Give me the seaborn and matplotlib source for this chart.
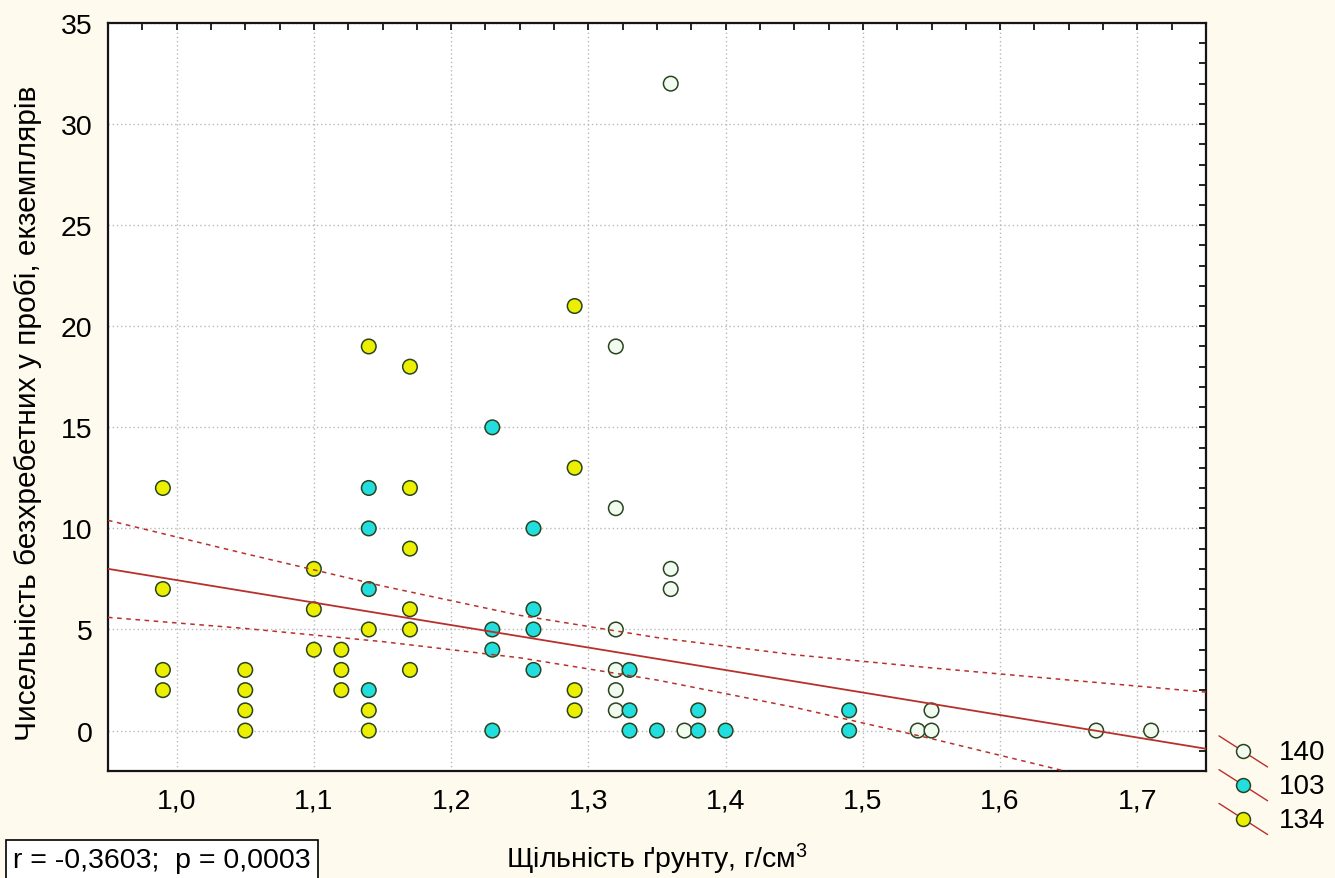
"""scatter of invertebrate counts vs soil density, with linear fit and 95% CI"""

import pandas as pd
import matplotlib.pyplot as plt
import seaborn as sns
from matplotlib.lines import Line2D
from matplotlib.legend_handler import HandlerBase
from matplotlib.ticker import MultipleLocator, FuncFormatter

# --- data ---
x_140 = [1.32, 1.32, 1.32, 1.32, 1.32, 1.32, 1.36, 1.36, 1.36, 1.37, 1.54, 1.55, 1.55, 1.67, 1.71]
y_140 = [19, 11, 5, 3, 2, 1, 32, 8, 7, 0, 0, 1, 0, 0, 0]

x_103 = [1.14, 1.14, 1.14, 1.14, 1.23, 1.23, 1.23, 1.23, 1.26, 1.26, 1.26, 1.26,
         1.33, 1.33, 1.33, 1.35, 1.38, 1.38, 1.40, 1.49, 1.49]
y_103 = [12, 10, 7, 2, 15, 5, 4, 0, 10, 6, 5, 3, 3, 1, 0, 0, 1, 0, 0, 1, 0]

x_134 = [0.99, 0.99, 0.99, 0.99, 1.05, 1.05, 1.05, 1.05, 1.10, 1.10, 1.10,
         1.12, 1.12, 1.12, 1.14, 1.14, 1.14, 1.14,
         1.17, 1.17, 1.17, 1.17, 1.17, 1.17, 1.29, 1.29, 1.29, 1.29]
y_134 = [12, 7, 3, 2, 3, 2, 1, 0, 8, 6, 4, 4, 3, 2, 19, 5, 1, 0,
         18, 12, 9, 6, 5, 3, 21, 13, 2, 1]

# regression line and its 95% band, as drawn in the original (all sites pooled)
fit_x = [0.95, 1.75]
fit_y = [8.0, -0.9]
band_x = [0.95, 1.05, 1.15, 1.25, 1.35, 1.45, 1.55, 1.65, 1.75]
band_hi = [10.4, 8.75, 7.15, 5.7, 4.6, 3.75, 3.1, 2.5, 1.9]
band_lo = [5.6, 5.05, 4.4, 3.6, 2.5, 1.15, -0.4, -2.05, -3.7]

groups = ["140", "103", "134"]
colors = {"140": "#f2fbf0", "103": "#22dede", "134": "#ecf000"}
r_text = "r = -0,3603;  p = 0,0003"

df = pd.concat([
    pd.DataFrame({"x": x_140, "y": y_140, "g": "140"}),
    pd.DataFrame({"x": x_103, "y": y_103, "g": "103"}),
    pd.DataFrame({"x": x_134, "y": y_134, "g": "134"}),
], ignore_index=True)

sns.set_style("white", {"text.color": "black", "axes.labelcolor": "black",
                        "xtick.color": "black", "ytick.color": "black"})
plt.rcParams["font.family"] = ["Liberation Sans", "DejaVu Sans"]
plt.rcParams["mathtext.default"] = "regular"

FS = 20.5
EDGE = "#2a4420"
LINE = "#b8302c"

fig = plt.figure(figsize=(13.35, 8.79), dpi=100, facecolor="#fffaee")
ax = fig.add_axes([108 / 1335, 1 - 772 / 879, 1098 / 1335, 748 / 879])
ax.set_facecolor("white")

sns.scatterplot(data=df, x="x", y="y", hue="g", palette=colors, s=110,
                edgecolor=EDGE, linewidth=1.1, legend=False, ax=ax, zorder=3)

sns.lineplot(x=fit_x, y=fit_y, color=LINE, lw=1.3, ax=ax, zorder=4)
ax.plot(band_x, band_hi, color=LINE, lw=1.1, ls=(0, (3, 3)), zorder=4)
ax.plot(band_x, band_lo, color=LINE, lw=1.1, ls=(0, (3, 3)), zorder=4)

ax.set_xlim(0.95, 1.75)
ax.set_ylim(-2, 35)
ax.xaxis.set_major_locator(MultipleLocator(0.1))
ax.xaxis.set_minor_locator(MultipleLocator(0.025))
ax.yaxis.set_major_locator(MultipleLocator(5))
ax.yaxis.set_minor_locator(MultipleLocator(1))
ax.xaxis.set_major_formatter(FuncFormatter(lambda v, p: f"{v:.1f}".replace(".", ",")))
ax.yaxis.set_major_formatter(FuncFormatter(lambda v, p: f"{v:.0f}"))

ax.tick_params(which="both", direction="in", top=True, right=True,
               length=5, width=1.2, color="black", labelcolor="black")
ax.tick_params(axis="x", which="major", labelsize=FS, pad=12)
ax.tick_params(axis="y", which="major", labelsize=FS, pad=11)

for sp in ax.spines.values():
    sp.set_color("#151515")
    sp.set_linewidth(1.6)

ax.grid(True, which="major", color="#b8b8b8", ls=(0, (1, 2)), lw=1.0)

ax.set_xlabel("Щільність ґрунту, г/см$^3$", fontsize=FS, color="black")
ax.xaxis.set_label_coords(0.5, -0.093)
ax.set_ylabel("Чисельність безхребетних у пробі, екземплярів", fontsize=21.5,
              color="black")
ax.yaxis.set_label_coords(-0.060, 0.48)


class DiagHandler(HandlerBase):
    def create_artists(self, legend, orig_handle, xdescent, ydescent,
                       width, height, fontsize, trans):
        x0, x1 = -xdescent, -xdescent + width
        seg = Line2D([x0, x1], [height * 1.2, -height * 0.4],
                     color=LINE, lw=1.0, transform=trans)
        mk = Line2D([(x0 + x1) / 2], [height * 0.4], marker="o", ls="none",
                    markersize=10, markerfacecolor=orig_handle.get_markerfacecolor(),
                    markeredgecolor=EDGE, markeredgewidth=1.1, transform=trans)
        return [seg, mk]


handles = [Line2D([], [], marker="o", markerfacecolor=colors[g]) for g in groups]
leg = fig.legend(handles, groups, handler_map={Line2D: DiagHandler()},
                 loc="center left", bbox_to_anchor=(1219 / 1335, 1 - 787 / 879),
                 frameon=False, fontsize=20, handlelength=1.75, handletextpad=0.4,
                 labelspacing=0.28, borderpad=0, borderaxespad=0)
for t in leg.get_texts():
    t.set_color("black")

fig.text(13 / 1335, 1 - 861 / 879, r_text, fontsize=FS, ha="left", va="center",
         color="black",
         bbox=dict(boxstyle="square,pad=0.25", fc="white", ec="black", lw=1.2))

plt.savefig("out.png", dpi=100, facecolor=fig.get_facecolor())
